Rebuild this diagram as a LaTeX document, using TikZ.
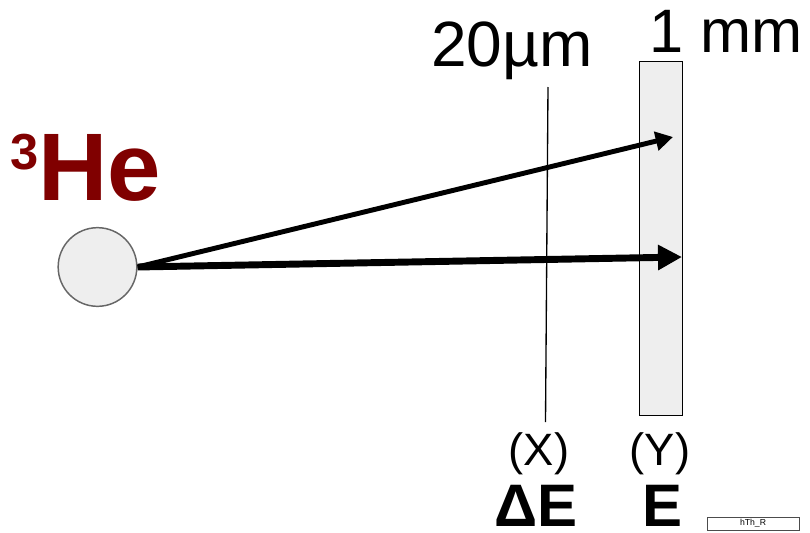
\documentclass[tikz,border=0pt]{standalone}
\usepackage{fontspec}
\setmainfont{Liberation Sans}
\usepackage{xcolor}
\usepackage{tikz}
\usetikzlibrary{arrows.meta, positioning}

\definecolor{heRed}{HTML}{800000}
\definecolor{padGray}{HTML}{EEEEEE}

\begin{document}
\begin{tikzpicture}[
    x=0.75pt, y=-0.75pt,
    lbl/.style={anchor=base, inner sep=0pt, font=\fontsize{34}{34}\selectfont},
    big/.style={anchor=base, inner sep=0pt, font=\fontsize{45}{45}\selectfont\bfseries},
    pad/.style={rectangle, draw=black, fill=padGray, line width=1.1pt, minimum width=32.25pt, minimum height=265.5pt, inner sep=0pt},
    ion/.style={circle, draw=black!60, fill=padGray, line width=1.1pt, minimum size=59pt, inner sep=0pt},
    track/.style={-{Triangle[length=13pt, width=14pt]}, line width=3.7pt},
    trackE/.style={-{Triangle[length=18pt, width=18pt]}, line width=5.2pt}
]
\useasboundingbox (0,0) rectangle (810,532);

% Teilchen
\node[anchor=base west, inner sep=0pt, text=heRed, font=\fontsize{72}{72}\selectfont\bfseries] (he) at (10,200)
    {\raisebox{23pt}{\fontsize{38}{38}\selectfont 3}He};
\node[ion] (ball) at (97.5,267) {};

% dicker Detektor (E)
\node[pad] (det) at (661,238.5) {};
\node[anchor=base, inner sep=0pt, font=\fontsize{46}{46}\selectfont] (thick) at (726,52) {1 mm};

% duenner Detektor (dE)
\coordinate (thinTop) at (548,87);
\coordinate (thinBot) at (545.5,422);
\draw[line width=1pt] (thinTop) -- (thinBot);
\node[anchor=base, inner sep=0pt, font=\fontsize{48}{48}\selectfont] (thin) at (512,66) {20µm};

% Spuren
\coordinate (hitA) at (673,137);
\coordinate (hitB) at (682,257);
\draw[track] (ball.east) -- (hitA);
\draw[trackE] (ball.east) -- (hitB);

% Achsen
\node[lbl] (x) at (539,465) {(X)};
\node[lbl] (y) at (660,465) {(Y)};
\node[big] (dE) at (536,526) {ΔE};
\node[big] (E) at (663,526) {E};

% Histogrammname
\node[draw=black!70, line width=0.5pt, minimum width=69pt, minimum height=9.75pt, inner sep=0pt, font=\fontsize{6.5}{6.5}\selectfont] (hname) at (753,523.5) {hTh\_R};

\end{tikzpicture}
\end{document}
